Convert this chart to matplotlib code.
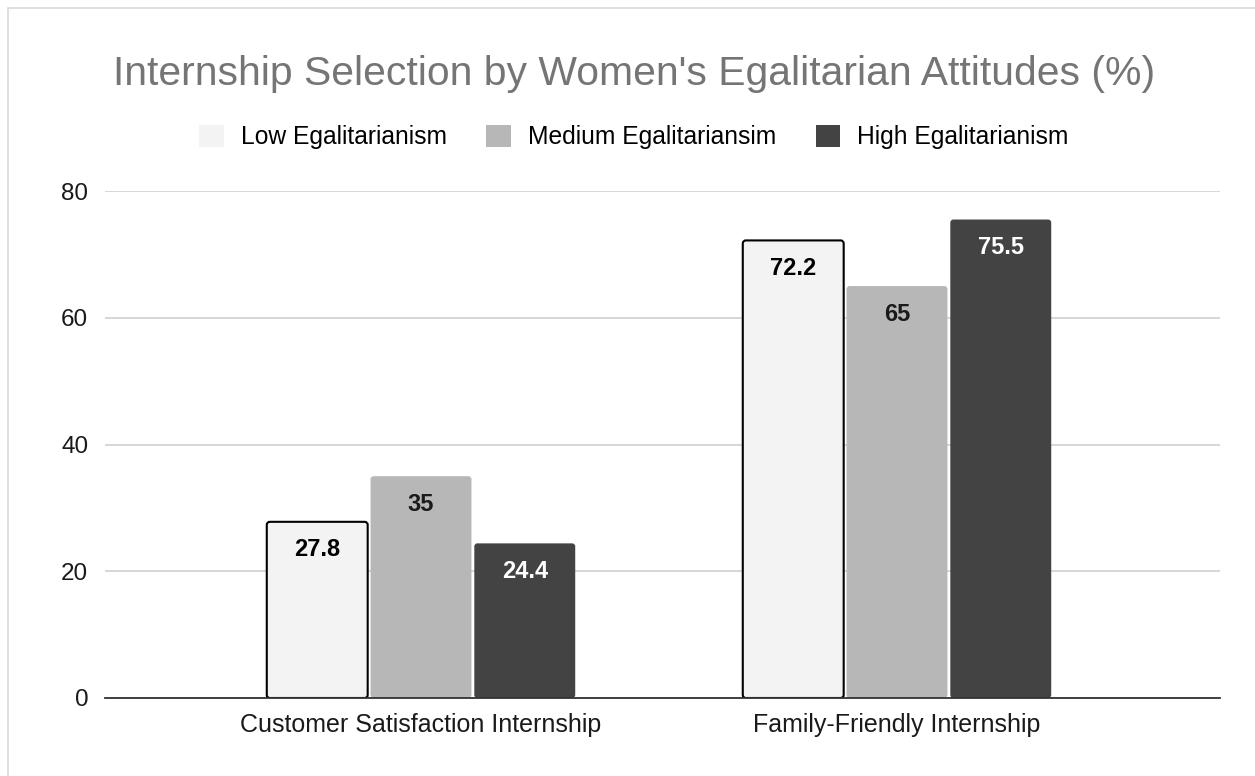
import matplotlib.pyplot as plt
from matplotlib.patches import FancyBboxPatch, Rectangle, Patch
import numpy as np

plt.rcParams['font.family'] = ['Liberation Sans', 'DejaVu Sans']

categories = ["Customer Satisfaction Internship", "Family-Friendly Internship"]
series_names = ["Low Egalitarianism", "Medium Egalitariansim", "High Egalitarianism"]
low_vals = [27.8, 72.2]
medium_vals = [35, 65]
high_vals = [24.4, 75.5]
y_ticks = [0, 20, 40, 60, 80]

colors = ["#f3f3f3", "#b7b7b7", "#434343"]
label_colors = ["#000000", "#1a1a1a", "#ffffff"]

W, H = 1255, 776
fig = plt.figure(figsize=(W / 100, H / 100), dpi=100)
fig.patch.set_facecolor("white")
# frame edge along the top and left of the chart
fig.add_artist(Rectangle((8 / W, -0.1), 1.2, 1.1 - 8 / H, transform=fig.transFigure,
                         fill=False, edgecolor="#d9d9d9", linewidth=1.2))

ax_l, ax_r, ax_t, ax_b = 105, 1220, 191, 698
ax = fig.add_axes([ax_l / W, 1 - ax_b / H, (ax_r - ax_l) / W, (ax_b - ax_t) / H])

x = np.arange(len(categories))
step = 0.218
width = 0.212
px_per_x = 476.0
px_per_y = (ax_b - ax_t) / 80.0

for i, (vals, col, lc) in enumerate(zip([low_vals, medium_vals, high_vals], colors, label_colors)):
    bars = ax.bar(x + (i - 1) * step, vals, width, color=col)
    for b, v in zip(bars, vals):
        b.remove()
        rounded = FancyBboxPatch((b.get_x(), 0), b.get_width(), v,
                                 boxstyle="round,pad=0,rounding_size=0.0065",
                                 mutation_aspect=px_per_x / px_per_y,
                                 facecolor=col,
                                 edgecolor="#000000" if i == 0 else "none",
                                 linewidth=1.5 if i == 0 else 0, zorder=2)
        ax.add_patch(rounded)
        ax.annotate(f"{v:g}", (b.get_x() + b.get_width() / 2, v), xytext=(0, -28),
                    textcoords="offset pixels", ha="center", va="center",
                    fontsize=17, fontweight="bold", color=lc, zorder=3)

ax.set_xlim(-316 / px_per_x, (ax_r - ax_l - 316) / px_per_x)
ax.set_ylim(0, 80)
ax.set_yticks(y_ticks)
ax.set_xticks(x)
ax.set_xticklabels(categories, fontsize=18, color="#1a1a1a")
ax.tick_params(axis="y", labelsize=17.5, labelcolor="#1a1a1a", length=0, pad=12)
ax.tick_params(axis="x", length=0, pad=11)
ax.grid(axis="y", color="#cccccc", linewidth=1.1, zorder=0)
ax.set_axisbelow(True)
for s in ["top", "right", "left"]:
    ax.spines[s].set_visible(False)
ax.spines["bottom"].set_color("#333333")
ax.spines["bottom"].set_linewidth(1.3)
ax.spines["bottom"].set_zorder(4)

fig.text(634 / W, 1 - 85 / H, "Internship Selection by Women's Egalitarian Attitudes (%)",
         ha="center", va="baseline", fontsize=29.4, color="#757575")

handles = [Patch(facecolor=c, edgecolor="none") for c in colors]
fig.legend(handles, series_names, loc="center", bbox_to_anchor=(634 / W, 1 - 137 / H),
           ncol=3, frameon=False, fontsize=17.7, handlelength=1.0, handleheight=1.0,
           handletextpad=0.7, columnspacing=1.6, borderpad=0, borderaxespad=0)

fig.savefig("out.png", dpi=100)
